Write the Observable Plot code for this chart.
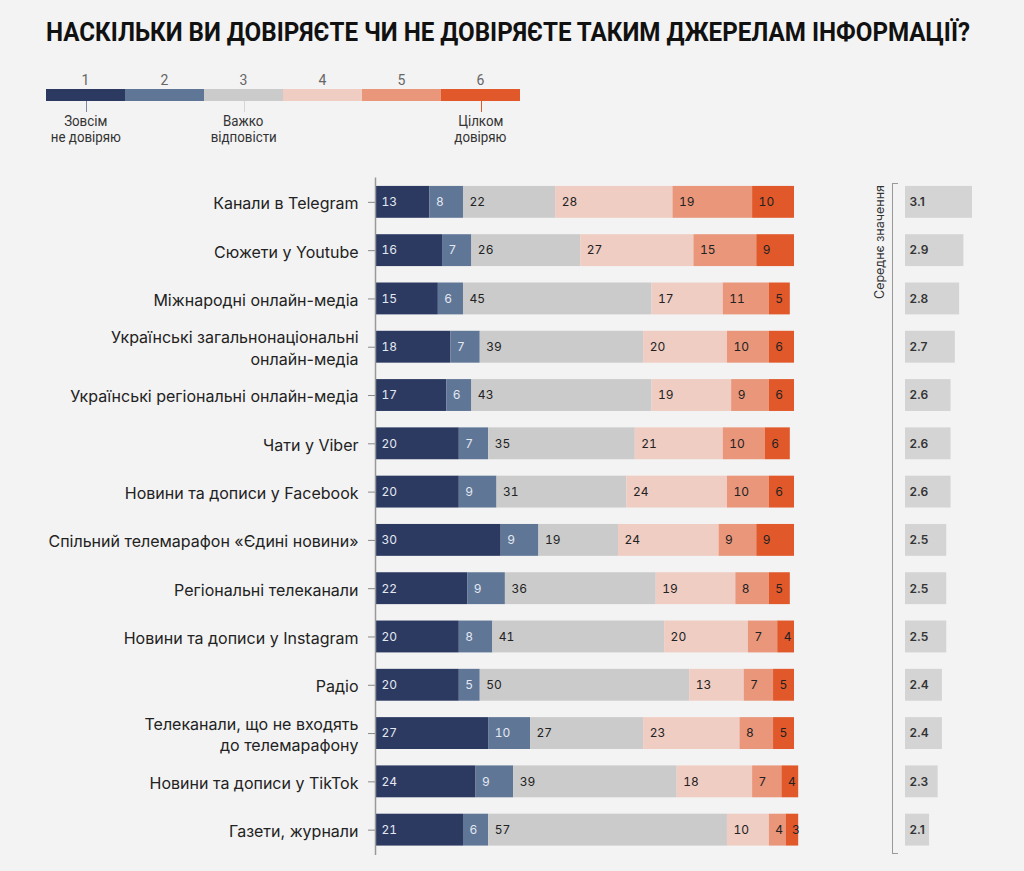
<!DOCTYPE html>
<html>
<head>
<meta charset="utf-8">
<script src="https://cdn.jsdelivr.net/npm/d3@7"></script>
<script src="https://cdn.jsdelivr.net/npm/@observablehq/plot@0.6"></script>
<style>
  html, body { margin: 0; padding: 0; background: #f3f3f3; }
  #wrap { position: relative; width: 1024px; height: 871px; overflow: hidden; background: #f3f3f3; font-family: Inter, "Noto Sans", sans-serif; }
  #title { position: absolute; left: 46px; top: 18px; font-family: Roboto, "Liberation Sans", sans-serif; font-weight: bold; font-size: 25px; line-height: 30px; color: #111; white-space: nowrap; transform-origin: 0 0; }
  #legend { position: absolute; left: 46px; top: 70px; width: 474px; height: 80px; }
  .lnum { position: absolute; top: 2px; width: 79px; text-align: center; font-family: Roboto, sans-serif; font-size: 14px; color: #666; }
  .lseg { position: absolute; top: 19px; height: 12px; }
  .ltick { position: absolute; top: 31px; width: 1px; height: 11px; }
  .llab { position: absolute; top: 43px; width: 120px; text-align: center; font-family: Roboto, sans-serif; font-size: 14px; line-height: 16px; color: #333; }
  .llab span { display: inline-block; transform: scaleX(0.95); }
  #bracket { position: absolute; left: 892px; top: 183px; width: 5px; height: 669px; border-left: 1.5px solid #999; border-top: 1.5px solid #999; border-bottom: 1.5px solid #999; }
  #meanlab { position: absolute; left: 872px; top: 185px; writing-mode: vertical-rl; transform: rotate(180deg); font-family: Inter, sans-serif; font-size: 12.5px; color: #333; white-space: nowrap; line-height: 16px; }
  .plot { position: absolute; left: 0; top: 0; }
</style>
</head>
<body>
<div id="wrap">
  <div id="title"></div>
  <div id="legend"></div>
  <div id="bracket"></div>
  <div id="meanlab"></div>
</div>
<script>
const titleText = "НАСКІЛЬКИ ВИ ДОВІРЯЄТЕ ЧИ НЕ ДОВІРЯЄТЕ ТАКИМ ДЖЕРЕЛАМ ІНФОРМАЦІЇ?";
const meanLabel = "Середнє значення";

const sources = [
  "Канали в Telegram",
  "Сюжети у Youtube",
  "Міжнародні онлайн-медіа",
  "Українські загальнонаціональні\nонлайн-медіа",
  "Українські регіональні онлайн-медіа",
  "Чати у Viber",
  "Новини та дописи у Facebook",
  "Спільний телемарафон «Єдині новини»",
  "Регіональні телеканали",
  "Новини та дописи у Instagram",
  "Радіо",
  "Телеканали, що не входять\nдо телемарафону",
  "Новини та дописи у TikTok",
  "Газети, журнали"
];

const levels = [1, 2, 3, 4, 5, 6];
const levelColors = ["#2c3a62", "#5f7697", "#cbcbcb", "#efcdc2", "#e9967a", "#e1582a"];
const legendTicks = [
  {level: 1, label: "Зовсім\nне довіряю", color: "#7f889e"},
  {level: 3, label: "Важко\nвідповісти", color: "#d6d6d6"},
  {level: 6, label: "Цілком\nдовіряю", color: "#e1582a"}
];

const v1 = [13, 16, 15, 18, 17, 20, 20, 30, 22, 20, 20, 27, 24, 21];
const v2 = [8, 7, 6, 7, 6, 7, 9, 9, 9, 8, 5, 10, 9, 6];
const v3 = [22, 26, 45, 39, 43, 35, 31, 19, 36, 41, 50, 27, 39, 57];
const v4 = [28, 27, 17, 20, 19, 21, 24, 24, 19, 20, 13, 23, 18, 10];
const v5 = [19, 15, 11, 10, 9, 10, 10, 9, 8, 7, 7, 8, 7, 4];
const v6 = [10, 9, 5, 6, 6, 6, 6, 9, 5, 4, 5, 5, 4, 3];
const means = [3.1, 2.9, 2.8, 2.7, 2.6, 2.6, 2.6, 2.5, 2.5, 2.5, 2.4, 2.4, 2.3, 2.1];

const series = [v1, v2, v3, v4, v5, v6];
const rows = [];
sources.forEach((s, i) => {
  let start = 0;
  series.forEach((arr, j) => {
    rows.push({source: s, level: levels[j], value: arr[i], start});
    start += arr[i];
  });
});
const meanRows = sources.map((s, i) => ({source: s, mean: means[i]}));

// Title (condensed to the reference's width)
const titleEl = document.getElementById("title");
titleEl.textContent = titleText;
const tw = titleEl.getBoundingClientRect().width;
titleEl.style.transform = `scaleX(${924 / tw})`;
document.getElementById("meanlab").textContent = meanLabel;

// Legend
const leg = document.getElementById("legend");
const segW = 79;
levels.forEach((lv, i) => {
  const n = document.createElement("div");
  n.className = "lnum"; n.style.left = (i * segW) + "px"; n.textContent = lv;
  leg.appendChild(n);
  const s = document.createElement("div");
  s.className = "lseg"; s.style.left = (i * segW) + "px"; s.style.width = segW + "px"; s.style.background = levelColors[i];
  leg.appendChild(s);
});
legendTicks.forEach(t => {
  const i = levels.indexOf(t.level);
  const cx = i * segW + segW / 2;
  const tk = document.createElement("div");
  tk.className = "ltick"; tk.style.left = cx + "px"; tk.style.background = t.color;
  leg.appendChild(tk);
  const lb = document.createElement("div");
  lb.className = "llab"; lb.style.left = (cx - 60) + "px";
  lb.innerHTML = t.label.split("\n").map(l => `<span>${l}</span>`).join("<br>");
  leg.appendChild(lb);
});

const W = 1024, H = 871;
const mTop = 169.5, mBottom = 9;
const yOpts = {domain: sources, padding: 0.34, round: false};

const main = Plot.plot({
  width: W, height: H,
  marginLeft: 375, marginRight: 230, marginTop: mTop, marginBottom: mBottom,
  style: {background: "transparent", fontFamily: "Inter, 'Noto Sans', sans-serif", fontSize: "16px", color: "#222"},
  x: {domain: [0, 100], axis: null},
  y: {...yOpts, label: null},
  color: {domain: levels, range: levelColors},
  marks: [
    Plot.barX(rows, Plot.stackX({x: "value", y: "source", z: "level", fill: "level", order: null})),
    Plot.text(rows.filter(d => d.level <= 2), {x: "start", y: "source", text: "value", dx: 6, textAnchor: "start", fill: "#e3e8f1", fontSize: 12}),
    Plot.text(rows.filter(d => d.level > 2), {x: "start", y: "source", text: "value", dx: 6, textAnchor: "start", fill: "#222", fontSize: 12}),
    Plot.axisY({tickSize: 7, tickPadding: 10, fontSize: 16, lineHeight: 1.35, stroke: "#888", fill: "#222", label: null}),
    Plot.ruleX([0], {stroke: "#999", strokeWidth: 1.5, insetTop: 8, insetBottom: 7})
  ]
});
main.classList.add("plot");
document.getElementById("wrap").appendChild(main);

const meanPlot = Plot.plot({
  width: W, height: H,
  marginLeft: 905, marginRight: 52, marginTop: mTop, marginBottom: mBottom,
  style: {background: "transparent", fontFamily: "Inter, 'Noto Sans', sans-serif"},
  x: {domain: [1.54, 3.1], clamp: true, axis: null},
  y: {...yOpts, axis: null},
  marks: [
    Plot.barX(meanRows, {x: "mean", y: "source", fill: "#d4d4d4"}),
    Plot.text(meanRows, {y: "source", text: d => d.mean.toFixed(1), frameAnchor: "left", dx: 4, textAnchor: "start", fill: "#333", fontSize: 12, fontWeight: 600})
  ]
});
meanPlot.classList.add("plot");
document.getElementById("wrap").appendChild(meanPlot);
</script>
</body>
</html>
